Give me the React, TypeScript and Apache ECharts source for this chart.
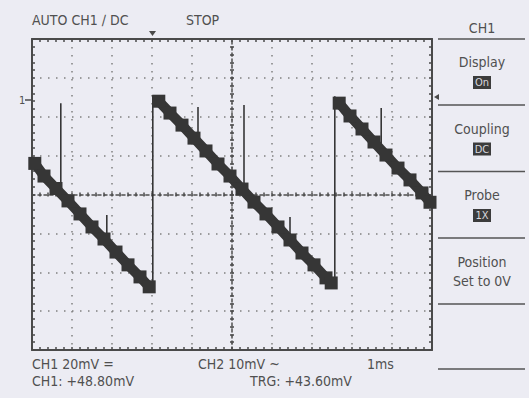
import React, { useEffect, useRef } from "react";
import * as echarts from "echarts";

// time in ms relative to screen centre (1 ms/div), value in mV (20 mV/div)
const ramp1: number[][] = [
  [-4.93, 16.0], [-4.7, 9.5], [-4.4, 3.1], [-4.1, -3.3], [-3.8, -10.0], [-3.5, -16.7],
  [-3.2, -22.9], [-2.9, -29.6], [-2.6, -36.2], [-2.3, -42.4], [-2.07, -47.5],
];
const ramp2: number[][] = [
  [-1.83, 48.0], [-1.55, 41.9], [-1.25, 35.7], [-0.95, 29.0], [-0.65, 22.4], [-0.35, 15.7],
  [-0.05, 9.5], [0.25, 2.8], [0.55, -3.9], [0.85, -10.0], [1.15, -16.7], [1.45, -23.4],
  [1.75, -30.1], [2.05, -36.2], [2.35, -42.9], [2.48, -45.5],
];
const ramp3: number[][] = [
  [2.68, 47.0], [2.95, 40.4], [3.25, 33.7], [3.55, 27.0], [3.85, 20.3], [4.15, 13.6],
  [4.45, 7.5], [4.75, 0.8], [4.95, -4.0],
];
// vertical edges (retrace) and narrow glitches: [time, from, to]
const edges: number[][] = [
  [-1.98, -48.5, 51.0],
  [2.57, -46.0, 50.5],
];
const glitches: number[][] = [
  [-4.28, 47.0, 5.9],
  [-3.13, -10.5, -20.3],
  [-0.85, 45.0, 29.0],
  [0.3, 46.0, 2.3],
  [1.45, -11.6, -22.4],
  [3.73, 44.5, 25.4],
];

const topTexts = ["AUTO CH1 \u2215 DC", "STOP"];
const bottomTexts = ["CH1 20mV =", "CH2 10mV ~", "1ms", "CH1: +48.80mV", "TRG: +43.60mV"];
const menuTitle = "CH1";
const menuItems = [
  { label: "Display", box: "On" },
  { label: "Coupling", box: "DC" },
  { label: "Probe", box: "1X" },
];
const menuLast = ["Position", "Set to 0V"];

const FONT = "'Liberation Sans Narrow', 'DejaVu Sans Condensed', Roboto, sans-serif";
const INK = "#4a4a4a";
const WAVE = "#363636";

export default function App() {
  const ref = useRef<HTMLDivElement>(null);
  useEffect(() => {
    document.body.style.margin = "0";
    if (!ref.current) return;
    const chart = echarts.init(ref.current, undefined, { renderer: "svg" });

    const tick = { show: true, length: 3, lineStyle: { color: INK, width: 1.5 } };
    const minor = { show: true, splitNumber: 5, length: 3, lineStyle: { color: INK, width: 1.5 } };
    const dotted = { show: true, lineStyle: { color: "#808080", width: 1.5, type: [1.5, 6.5] } };
    const xa = (extra: any) => ({
      type: "value", min: -5, max: 5, interval: 1,
      axisLabel: { show: false }, splitLine: { show: false },
      axisLine: { show: true, onZero: false, lineStyle: { color: INK, width: 2 } },
      axisTick: { ...tick, inside: true }, minorTick: minor,
      ...extra,
    });
    const ya = (extra: any) => ({
      type: "value", min: -80, max: 80, interval: 20,
      axisLabel: { show: false }, splitLine: { show: false },
      axisLine: { show: true, onZero: false, lineStyle: { color: INK, width: 2 } },
      axisTick: { ...tick, inside: true }, minorTick: minor,
      ...extra,
    });
    const centerLine = { color: "#4f4f4f", width: 1.5, type: [3, 3] };

    const series: any[] = [];
    [ramp1, ramp2, ramp3].forEach((d) =>
      series.push({
        type: "line", data: d, xAxisIndex: 0, yAxisIndex: 0,
        symbol: "rect", symbolSize: 13, showSymbol: true, showAllSymbol: true,
        lineStyle: { color: WAVE, width: 10 }, itemStyle: { color: WAVE },
        z: 5, silent: true,
      })
    );
    [...edges, ...glitches].forEach((g) =>
      series.push({
        type: "line", data: [[g[0], g[1]], [g[0], g[2]]], xAxisIndex: 0, yAxisIndex: 0,
        symbol: "none", lineStyle: { color: WAVE, width: 1.6 }, z: 4, silent: true,
      })
    );

    const txt = (x: number, y: number, s: string, align = "left", size = 14) => ({
      type: "text", x, y,
      style: { text: s, fill: "#505050", font: `${size}px ${FONT}`, textAlign: align, textVerticalAlign: "middle" },
    });
    const hline = (y: number) => ({
      type: "line", shape: { x1: 438, y1: y, x2: 525, y2: y },
      style: { stroke: "#555", lineWidth: 1.5 },
    });
    const graphics: any[] = [
      txt(32, 20, topTexts[0]),
      txt(186, 20, topTexts[1]),
      txt(32, 364, bottomTexts[0]),
      txt(198, 364, bottomTexts[1]),
      txt(367, 364, bottomTexts[2]),
      txt(32, 381, bottomTexts[3]),
      txt(250, 381, bottomTexts[4]),
      txt(482, 28, menuTitle, "center"),
      hline(39),
    ];
    menuItems.forEach((m, i) => {
      const y0 = 39 + i * 66.5;
      graphics.push(txt(482, y0 + 23, m.label, "center"));
      graphics.push({
        type: "rect", shape: { x: 473, y: y0 + 37, width: 18, height: 13 },
        style: { fill: "#3c3c3c" },
      });
      graphics.push({
        type: "text", x: 482, y: y0 + 43.5,
        style: { text: m.box, fill: "#d8d8de", font: `11px ${FONT}`, textAlign: "center", textVerticalAlign: "middle" },
      });
      graphics.push(hline(y0 + 66));
    });
    graphics.push(txt(482, 262, menuLast[0], "center"));
    graphics.push(txt(482, 281, menuLast[1], "center"));
    graphics.push(hline(304));
    graphics.push(hline(369));
    // channel-1 marker, trigger level marker, trigger position marker
    graphics.push(txt(19, 100, "1", "left", 11));
    graphics.push({ type: "line", shape: { x1: 25, y1: 100, x2: 31, y2: 100 }, style: { stroke: INK, lineWidth: 1.5 } });
    graphics.push({ type: "polygon", shape: { points: [[434, 97], [439, 94], [439, 100]] }, style: { fill: INK } });
    graphics.push({ type: "polygon", shape: { points: [[149, 31], [156, 31], [152.5, 36]] }, style: { fill: INK } });

    chart.setOption({
      animation: false,
      backgroundColor: "#ececf3",
      grid: { left: 32, right: 97, top: 39, bottom: 48, show: false },
      xAxis: [
        xa({ position: "bottom", splitLine: dotted }),
        xa({ position: "top" }),
        xa({ position: "bottom", axisLine: { show: true, onZero: true, onZeroAxisIndex: 0, lineStyle: centerLine }, axisTick: { ...tick, length: 2, inside: true }, minorTick: { ...minor, length: 2 } }),
        xa({ position: "bottom", axisLine: { show: false, onZero: true, onZeroAxisIndex: 0 }, axisTick: { ...tick, length: 2, inside: false }, minorTick: { ...minor, length: 2 } }),
      ],
      yAxis: [
        ya({ position: "left", splitLine: dotted }),
        ya({ position: "right" }),
        ya({ position: "left", axisLine: { show: true, onZero: true, onZeroAxisIndex: 0, lineStyle: centerLine }, axisTick: { ...tick, length: 2, inside: true }, minorTick: { ...minor, length: 2 } }),
        ya({ position: "left", axisLine: { show: false, onZero: true, onZeroAxisIndex: 0 }, axisTick: { ...tick, length: 2, inside: false }, minorTick: { ...minor, length: 2 } }),
      ],
      series,
      graphic: graphics,
    });
    return () => chart.dispose();
  }, []);
  return <div ref={ref} style={{ width: 529, height: 398 }} />;
}
